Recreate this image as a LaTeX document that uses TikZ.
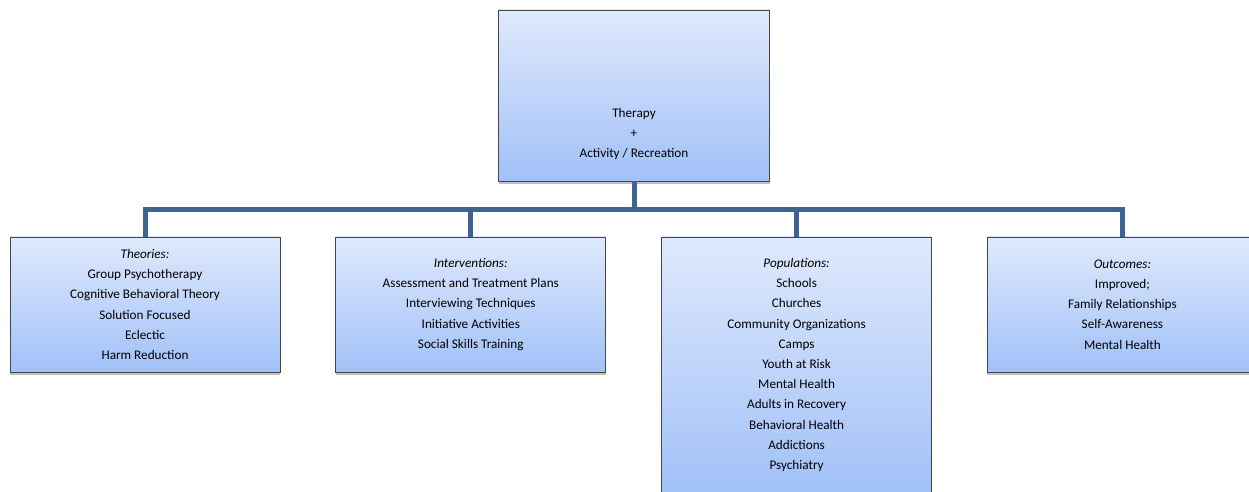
\documentclass[tikz,border=0pt]{standalone}
\usepackage{fontspec}
\setmainfont{Carlito}
\usepackage{xcolor}
\usepackage{tikz}
\usetikzlibrary{positioning, shadows}

\definecolor{boxtop}{RGB}{223,233,252}
\definecolor{boxbottom}{RGB}{161,193,248}
\definecolor{barblue}{RGB}{62,100,148}
\definecolor{boxline}{RGB}{70,70,70}

\tikzset{
  item/.style={draw=boxline, line width=0.8pt, top color=boxtop, bottom color=boxbottom,
    minimum width=270pt, minimum height=135pt, inner sep=0pt, align=center,
    font=\fontsize{13.2}{20.2}\selectfont,
    drop shadow={shadow xshift=0pt, shadow yshift=-3pt, opacity=.35, fill=black!70}},
  lbl/.style={align=center, font=\fontsize{13.2}{20.4}\selectfont},
  bar/.style={draw=barblue, line width=5pt}
}

\begin{document}
\begin{tikzpicture}[x=1pt, y=1pt]
            \clip (0,0) rectangle (1249,492);
            \useasboundingbox (0,0) rectangle (1249,492);
            \fill[white] (0,0) rectangle (1249,492);
            % top box
            \node[item, minimum width=271pt, minimum height=171pt] (top) at (634,396.5) {};
            \node[lbl] (toptext) at (634,358) {Therapy\\+\\Activity / Recreation};
            % the four boxes
            \node[item] (theo) at (145,187.5) {\textit{Theories:}\\Group Psychotherapy\\Cognitive Behavioral Theory\\Solution Focused\\Eclectic\\Harm Reduction};
            \node[item, right=55pt of theo] (interv) {\textit{Interventions:}\\Assessment and Treatment Plans\\Interviewing Techniques\\Initiative Activities\\Social Skills Training};
            \node[item, minimum height=256pt, right=55pt of interv.north east, anchor=north west] (pop) {\textit{Populations:}\\Schools\\Churches\\Community Organizations\\Camps\\Youth at Risk\\Mental Health\\Adults in Recovery\\Behavioral Health\\Addictions\\Psychiatry};
            \node[item, right=55pt of pop.north east, anchor=north west] (outc) {\textit{Outcomes:}\\Improved;\\Family Relationships\\Self-Awareness\\Mental Health};
            % connectors
            \coordinate (hub) at (634,282);
            \draw[bar] (top.south) -- (hub);
            \draw[bar] (hub) -| (theo.north);
            \draw[bar] (hub) -| (interv.north);
            \draw[bar] (hub) -| (pop.north);
            \draw[bar] (hub) -| (outc.north);
        \end{tikzpicture}
\end{document}
